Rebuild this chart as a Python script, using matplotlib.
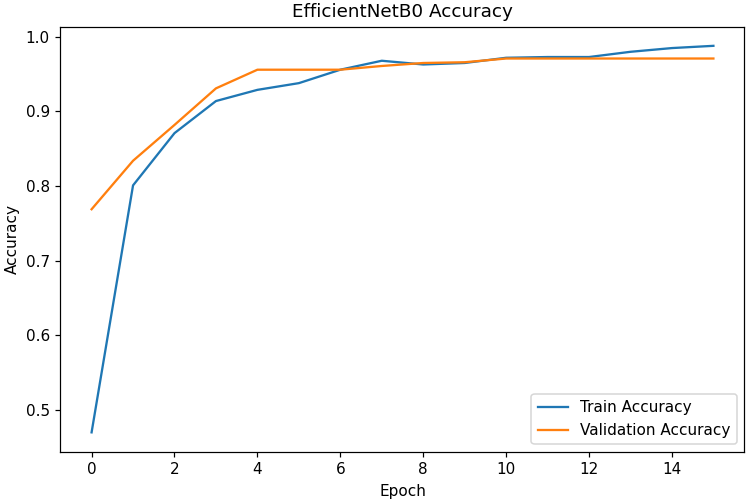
import matplotlib
matplotlib.use("Agg")
import matplotlib.pyplot as plt

epochs = list(range(16))
train_acc = [0.470, 0.801, 0.871, 0.914, 0.929, 0.938, 0.956, 0.968, 0.963, 0.965,
             0.972, 0.973, 0.973, 0.980, 0.985, 0.988]
val_acc = [0.769, 0.834, 0.882, 0.931, 0.956, 0.956, 0.956, 0.961, 0.965, 0.966,
           0.971, 0.971, 0.971, 0.971, 0.971, 0.971]

# reference looks like a 110 dpi render
fig = plt.figure(figsize=(752 / 110, 502 / 110), dpi=110)
ax = fig.add_axes([60.5 / 752, (502 - 451.7) / 502, (744.5 - 60.5) / 752, (451.7 - 26.5) / 502])
ax.plot(epochs, train_acc, label='Train Accuracy')
ax.plot(epochs, val_acc, label='Validation Accuracy')
ax.set_title('EfficientNetB0 Accuracy')
ax.set_xlabel('Epoch')
ax.set_ylabel('Accuracy')
ax.legend(loc='lower right')
fig.savefig('out.png', dpi=110)
